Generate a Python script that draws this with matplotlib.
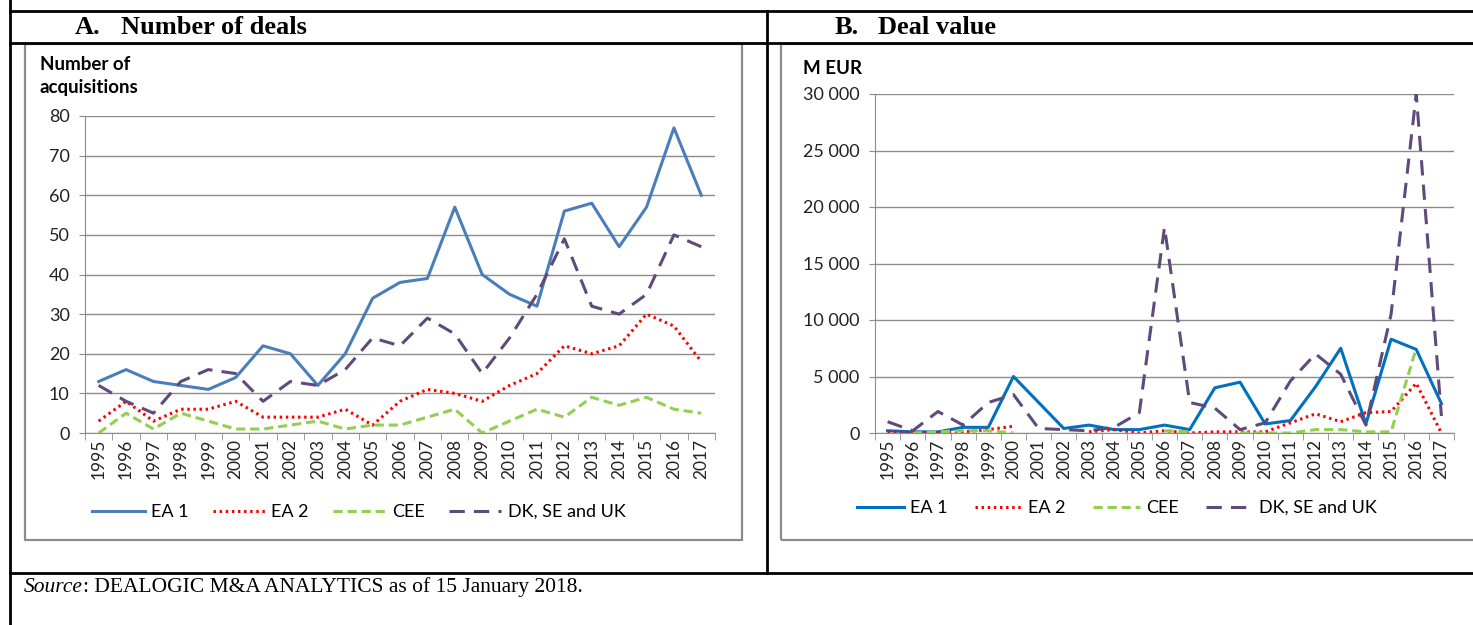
import numpy as np
import matplotlib
matplotlib.use('Agg')
import matplotlib.pyplot as plt
from matplotlib.ticker import FuncFormatter, MultipleLocator
from matplotlib.lines import Line2D
from matplotlib.patches import Rectangle

years = [str(y) for y in range(1995, 2018)]
series = ['EA 1', 'EA 2', 'CEE', 'DK, SE and UK']

# A. number of deals
deals_ea1 = [13, 16, 13, 12, 11, 14, 22, 20, 12, 20, 34, 38, 39, 57, 40, 35, 32, 56, 58, 47, 57, 77, 60]
deals_ea2 = [3, 8, 3, 6, 6, 8, 4, 4, 4, 6, 2, 8, 11, 10, 8, 12, 15, 22, 20, 22, 30, 27, 18]
deals_cee = [0, 5, 1, 5, 3, 1, 1, 2, 3, 1, 2, 2, 4, 6, 0, 3, 6, 4, 9, 7, 9, 6, 5]
deals_dk = [12, 8, 5, 13, 16, 15, 8, 13, 12, 16, 24, 22, 29, 25, 15, 24, 35, 49, 32, 30, 35, 50, 47]

# B. deal value, M EUR (nan = no data)
nan = np.nan
value_ea1 = [200, 100, 100, 500, 500, 5000, 2700, 400, 700, 300, 300, 700, 300,
             4000, 4500, 800, 1100, 4100, 7500, 800, 8300, 7400, 2600]
value_ea2 = [100, 50, 50, 100, 300, 600, nan, nan, 100, 300, 0, 200, 0,
             100, 100, 100, 900, 1700, 1000, 1800, 1900, 4400, 0]
value_cee = [nan, 0, 100, 200, 200, 0, nan, nan, nan, nan, nan, 200, 100,
             nan, 0, 0, 0, 300, 300, 100, 100, 7500, nan]
value_dk = [1000, 200, 1900, 700, 2700, 3400, 400, 300, 200, 500, 1800, 18200, 2700,
            2200, 300, 900, 4600, 7000, 5200, 700, 10500, 30000, 1500]

W, H = 1473, 625
fig = plt.figure(figsize=(W / 100, H / 100), dpi=100)
plt.rcParams['font.family'] = ['Lato', 'DejaVu Sans']

def fx(px):
    return px / W

def fy(py):
    return 1 - py / H

# table frame
def hline(y, x0, x1):
    fig.add_artist(Line2D([fx(x0), fx(x1)], [fy(y), fy(y)], color='black', lw=2))

def vline(x, y0, y1):
    fig.add_artist(Line2D([fx(x), fx(x)], [fy(y0), fy(y1)], color='black', lw=2))

hline(11, 10, W)
hline(43, 10, W)
hline(573, 10, W)
vline(10, 0, H)
vline(767, 11, 573)

# chart boxes
for x0, x1 in [(25, 742), (781, W + 5)]:
    fig.add_artist(Rectangle((fx(x0), fy(540)), fx(x1 - x0), fy(44) - fy(540),
                             fill=False, edgecolor='#8c8c8c', lw=1.6))

serif = 'Liberation Serif'
fig.text(fx(75), fy(28), 'A.', fontsize=19, fontweight='bold', family=serif, va='center')
fig.text(fx(121), fy(28), 'Number of deals', fontsize=19, fontweight='bold', family=serif, va='center')
fig.text(fx(835), fy(28), 'B.', fontsize=19, fontweight='bold', family=serif, va='center')
fig.text(fx(878), fy(28), 'Deal value', fontsize=19, fontweight='bold', family=serif, va='center')

src = fig.text(fx(24), fy(587), 'Source', fontsize=15.5, style='italic', family=serif, va='center')
r = fig.canvas.get_renderer()
bb = src.get_window_extent(renderer=r)
fig.text(bb.x1 / W, fy(587), ': DEALOGIC M&A ANALYTICS as of 15 January 2018.', fontsize=15.5,
         family=serif, va='center')

styles = [
    dict(color=None, ls='-'),
    dict(color='#ff0000', ls=(0, (0.8, 1.2))),
    dict(color='#92d050', ls=(0, (3, 1.6))),
    dict(color='#604a7b', ls=(0, (5, 3))),
]

def setup(ax, ymax, step):
    x = np.arange(len(years))
    ax.set_xlim(-0.5, len(years) - 0.5)
    ax.set_ylim(0, ymax)
    ax.yaxis.set_major_locator(MultipleLocator(step))
    ax.set_xticks(x)
    ax.set_xticklabels(years, rotation=90, fontsize=12.5, color='#222222')
    ax.set_xticks(np.arange(-0.5, len(years)), minor=True)
    ax.tick_params(axis='x', which='major', length=0, pad=4)
    ax.tick_params(axis='x', which='minor', length=5, color='#8c8c8c')
    ax.tick_params(axis='y', length=4, color='#8c8c8c', labelsize=13, labelcolor='#222222', pad=7)
    ax.grid(axis='y', color='#8c8c8c', lw=1)
    ax.set_axisbelow(True)
    for s in ['top', 'right']:
        ax.spines[s].set_visible(False)
    for s in ['left', 'bottom']:
        ax.spines[s].set_color('#8c8c8c')
    return x

leg_kw = dict(loc='center left', bbox_transform=fig.transFigure, ncol=4, frameon=False,
              fontsize=13, handletextpad=0.35, borderaxespad=0)

# left chart
axL = fig.add_axes([fx(85), fy(433), fx(715 - 85), fy(116) - fy(433)])
x = setup(axL, 80, 10)
for data, st, name, c in zip([deals_ea1, deals_ea2, deals_cee, deals_dk], styles, series,
                             ['#4a7ebb', None, None, None]):
    axL.plot(x, data, color=c or st['color'], ls=st['ls'], lw=2.2, label=name)
fig.text(fx(40), fy(64), 'Number of', fontsize=13.5, fontweight='bold', va='center')
fig.text(fx(40), fy(88), 'acquisitions', fontsize=13.5, fontweight='bold', va='center')
axL.legend(bbox_to_anchor=(fx(85), fy(512)), columnspacing=1.35, handlelength=2.9, **leg_kw)

# right chart
axR = fig.add_axes([fx(875), fy(433), fx(1454 - 875), fy(94) - fy(433)])
x = setup(axR, 30000, 5000)
axR.yaxis.set_major_formatter(FuncFormatter(lambda v, p: f'{int(v):,}'.replace(',', ' ')))
for data, st, name, c in zip([value_ea1, value_ea2, value_cee, value_dk], styles, series,
                             ['#0070c0', None, None, None]):
    axR.plot(x, data, color=c or st['color'], ls=st['ls'], lw=2.2, label=name)
fig.text(fx(803), fy(68), 'M EUR', fontsize=13.5, fontweight='bold', va='center')
axR.legend(bbox_to_anchor=(fx(850), fy(508)), columnspacing=1.5, handlelength=2.6, **leg_kw)

fig.savefig('out.png', dpi=100)
